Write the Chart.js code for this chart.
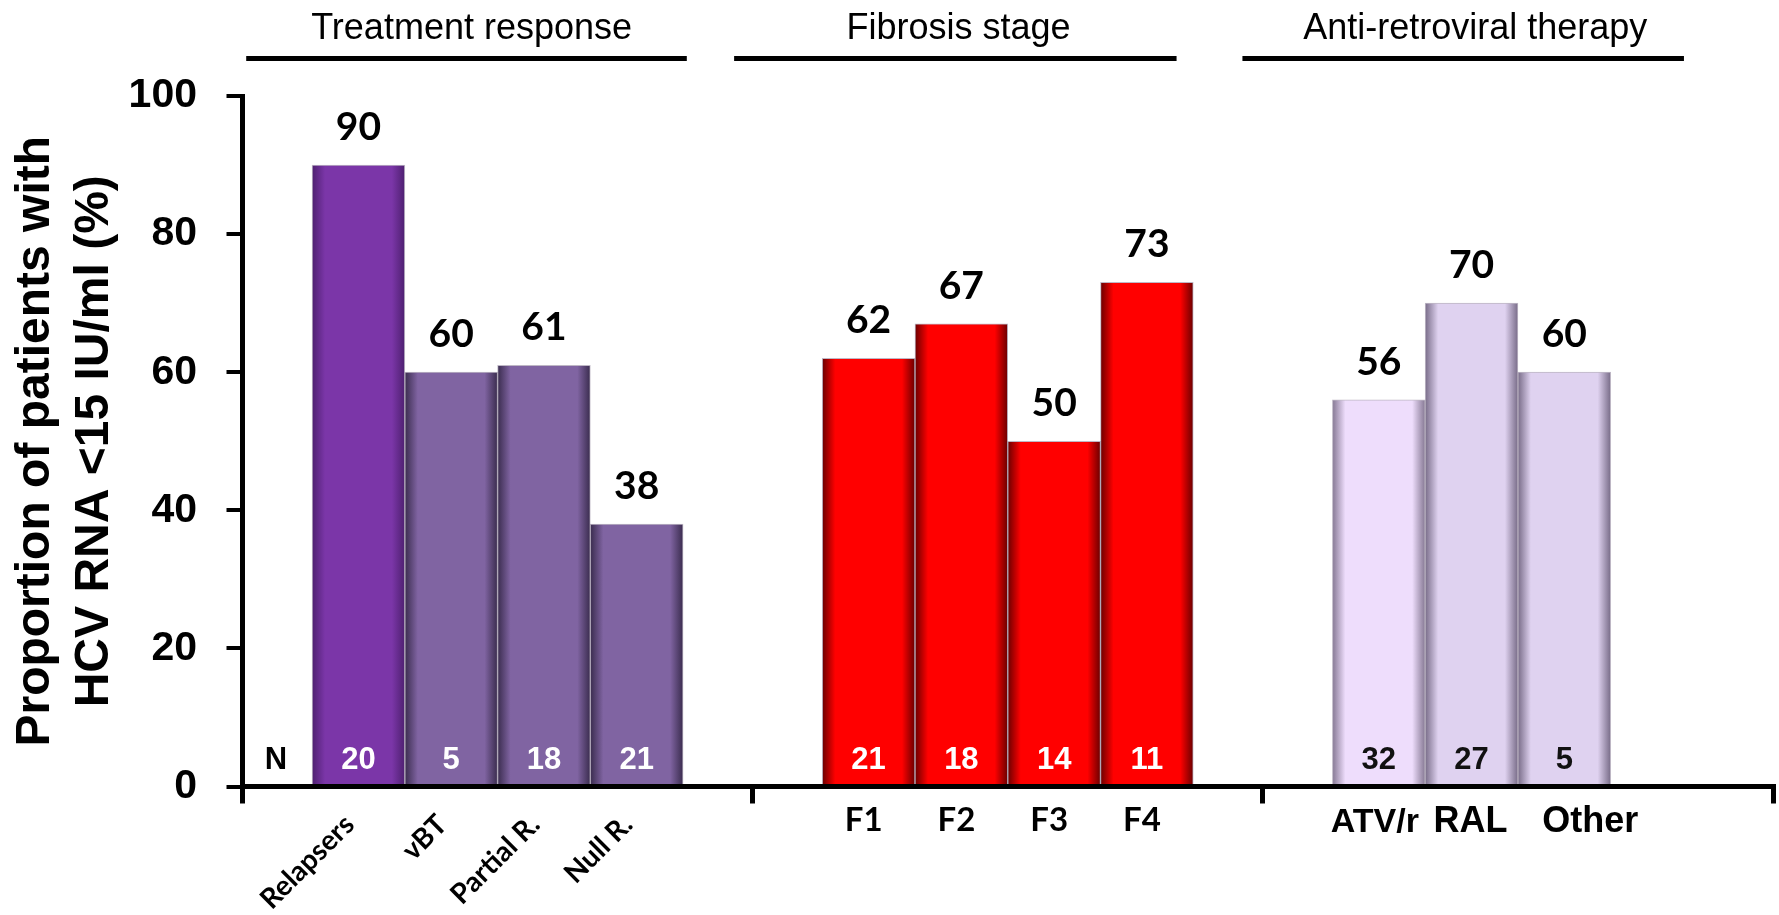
<!DOCTYPE html>
<html>
<head>
<meta charset="utf-8">
<title>HCV RNA response by subgroup</title>
<script src="https://cdn.jsdelivr.net/npm/chart.js@4.4.1/dist/chart.umd.min.js"></script>
<style>
  html, body { margin: 0; padding: 0; background: #ffffff; }
  canvas { display: block; }
</style>
</head>
<body>
<canvas id="chart" width="1779" height="915"></canvas>
<script>
// ---------- data ----------
const groupTitles = ['Treatment response', 'Fibrosis stage', 'Anti-retroviral therapy'];

const responseLabels = ['Relapsers', 'vBT', 'Partial R.', 'Null R.'];
const responseValues = [90, 60, 61, 38];
const responseN = [20, 5, 18, 21];

const fibrosisLabels = ['F1', 'F2', 'F3', 'F4'];
const fibrosisValues = [62, 67, 50, 73];
const fibrosisN = [21, 18, 14, 11];

const artLabels = ['ATV/r', 'RAL', 'Other'];
const artValues = [56, 70, 60];
const artN = [32, 27, 5];

const yTicks = [0, 20, 40, 60, 80, 100];
const nLabel = 'N';
const yTitle = ['Proportion of patients with', 'HCV RNA <15 IU/ml (%)'];

// ---------- styles ----------
const SANS = "'Liberation Sans', Arial, sans-serif";
const HUMAN = "Lato, 'Open Sans', sans-serif";
const barColors = [
  ['#7B36A8', '#8064A2', '#8064A2', '#8064A2'],
  ['#FF0000', '#FF0000', '#FF0000', '#FF0000'],
  ['#EEDDFC', '#DFD2F0', '#DFD2F0']
];
const edgeColors = [
  ['#4E2070', '#3A2C4E', '#3A2C4E', '#3A2C4E'],
  ['#6A0000', '#6A0000', '#6A0000', '#6A0000'],
  ['#857893', '#786C88', '#786C88']
];
const countColors = ['#ffffff', '#ffffff', '#111111'];

// ---------- layout (x-scale units: one unit = one bar width) ----------
const SECTION = 5.5;          // width of each subgroup section
const FIRST_BAR = 1.25;       // centre of the first bar inside a section
const headerCentres = [2.47, 7.72, 13.29];
const headerLines = [[0.04, 4.79], [5.30, 10.07], [10.78, 15.54]];
const nLabelPos = 0.36;
const artLabelShift = [-4, -1, 26];
const artLabelFonts = [34, 36, 36];

const groups = [
  { labels: responseLabels, values: responseValues, n: responseN },
  { labels: fibrosisLabels, values: fibrosisValues, n: fibrosisN },
  { labels: artLabels, values: artValues, n: artN }
];

const points = [];
const barInfo = [];
groups.forEach((g, gi) => {
  g.values.forEach((v, i) => {
    points.push({ x: gi * SECTION + FIRST_BAR + i, y: v });
    barInfo.push({ group: gi, index: i });
  });
});

// Bars get darkened left/right edges (a soft bevel)
function barFill(ctx) {
  const info = barInfo[ctx.dataIndex];
  if (!info) return '#8064A2';
  const base = barColors[info.group][info.index];
  const edge = edgeColors[info.group][info.index];
  const xs = ctx.chart.scales.x;
  if (!xs || ctx.raw == null) return base;
  const cx = xs.getPixelForValue(ctx.raw.x);
  const half = Math.abs(xs.getPixelForValue(1) - xs.getPixelForValue(0)) / 2;
  if (!isFinite(cx) || !isFinite(half) || half <= 0) return base;
  const g = ctx.chart.ctx.createLinearGradient(cx - half, 0, cx + half, 0);
  g.addColorStop(0, edge);
  g.addColorStop(0.14, base);
  g.addColorStop(0.86, base);
  g.addColorStop(1, edge);
  return g;
}

// Text annotations: headers, value labels, counts and category labels
const annotate = {
  id: 'annotate',
  afterDatasetsDraw(chart) {
    const { ctx } = chart;
    const xs = chart.scales.x;
    const bars = chart.getDatasetMeta(0).data;
    ctx.save();
    ctx.fillStyle = '#000';

    // subgroup headers with rule underneath
    ctx.font = '36px ' + SANS;
    ctx.textAlign = 'center';
    ctx.textBaseline = 'alphabetic';
    groupTitles.forEach((t, i) => {
      ctx.fillText(t, xs.getPixelForValue(headerCentres[i]), 39);
      ctx.beginPath();
      ctx.lineWidth = 5;
      ctx.strokeStyle = '#000';
      ctx.moveTo(xs.getPixelForValue(headerLines[i][0]), 58.5);
      ctx.lineTo(xs.getPixelForValue(headerLines[i][1]), 58.5);
      ctx.stroke();
    });

    // value labels above bars
    ctx.font = 'bold 39px ' + HUMAN;
    bars.forEach((bar, k) => {
      const info = barInfo[k];
      const v = groups[info.group].values[info.index];
      ctx.fillText(String(v), bar.x, bar.y - 25);
    });

    // patient counts inside the bars
    ctx.font = 'bold 31px ' + SANS;
    ctx.fillStyle = '#000';
    ctx.fillText(nLabel, xs.getPixelForValue(nLabelPos), 769);
    bars.forEach((bar, k) => {
      const info = barInfo[k];
      ctx.fillStyle = countColors[info.group];
      ctx.fillText(String(groups[info.group].n[info.index]), bar.x, 769);
    });

    // category labels
    ctx.fillStyle = '#000';
    bars.forEach((bar, k) => {
      const info = barInfo[k];
      const label = groups[info.group].labels[info.index];
      if (info.group === 0) {
        ctx.save();
        ctx.translate(bar.x - 9, 820);
        ctx.rotate(-Math.PI / 4);
        ctx.font = 'bold 28px ' + HUMAN;
        ctx.textAlign = 'right';
        ctx.textBaseline = 'middle';
        ctx.fillText(label, 0, 0);
        ctx.restore();
      } else if (info.group === 1) {
        ctx.font = 'bold 33px ' + HUMAN;
        ctx.textAlign = 'center';
        ctx.textBaseline = 'alphabetic';
        ctx.fillText(label, bar.x - 5, 831);
      } else {
        ctx.font = 'bold ' + artLabelFonts[info.index] + 'px ' + SANS;
        ctx.textAlign = 'center';
        ctx.textBaseline = 'alphabetic';
        ctx.fillText(label, bar.x + artLabelShift[info.index], 832);
      }
    });
    ctx.restore();
  }
};

new Chart(document.getElementById('chart'), {
  type: 'bar',
  data: {
    datasets: [{
      data: points,
      backgroundColor: barFill,
      borderColor: 'rgba(70, 50, 90, 0.35)',
      borderWidth: 1,
      barPercentage: 1,
      categoryPercentage: 1
    }]
  },
  options: {
    responsive: false,
    animation: false,
    devicePixelRatio: 1,
    layout: { padding: { top: 96, right: 6, left: 0, bottom: 0 } },
    plugins: {
      legend: { display: false },
      tooltip: { enabled: false }
    },
    scales: {
      x: {
        type: 'linear',
        offset: false,
        min: 0,
        max: SECTION * groups.length,
        afterBuildTicks: (scale) => {
          scale.ticks = groups.map((g, i) => ({ value: i * SECTION })).concat([{ value: SECTION * groups.length }]);
        },
        ticks: { display: false },
        grid: {
          display: true,
          offset: false,
          drawOnChartArea: false,
          drawTicks: true,
          tickLength: 17,
          color: '#000',
          lineWidth: 5
        },
        border: { display: true, color: '#000', width: 5, z: 1 },
        afterFit: (scale) => { scale.height = 128.5; }
      },
      y: {
        min: 0,
        max: 100,
        afterBuildTicks: (scale) => { scale.ticks = yTicks.map(v => ({ value: v })); },
        ticks: {
          color: '#000',
          padding: 29.5,
          font: { family: SANS, weight: 'bold', size: 41 }
        },
        grid: {
          display: true,
          drawOnChartArea: false,
          drawTicks: true,
          tickLength: 16,
          color: '#000',
          lineWidth: 4
        },
        border: { display: true, color: '#000', width: 5, z: 1 },
        title: {
          display: true,
          text: yTitle,
          color: '#000',
          font: { family: SANS, weight: 'bold', size: 48, lineHeight: 1.23 },
          padding: { top: 6, bottom: 0 }
        },
        afterFit: (scale) => { scale.width = 242.5; }
      }
    }
  },
  plugins: [annotate]
});
</script>
</body>
</html>
